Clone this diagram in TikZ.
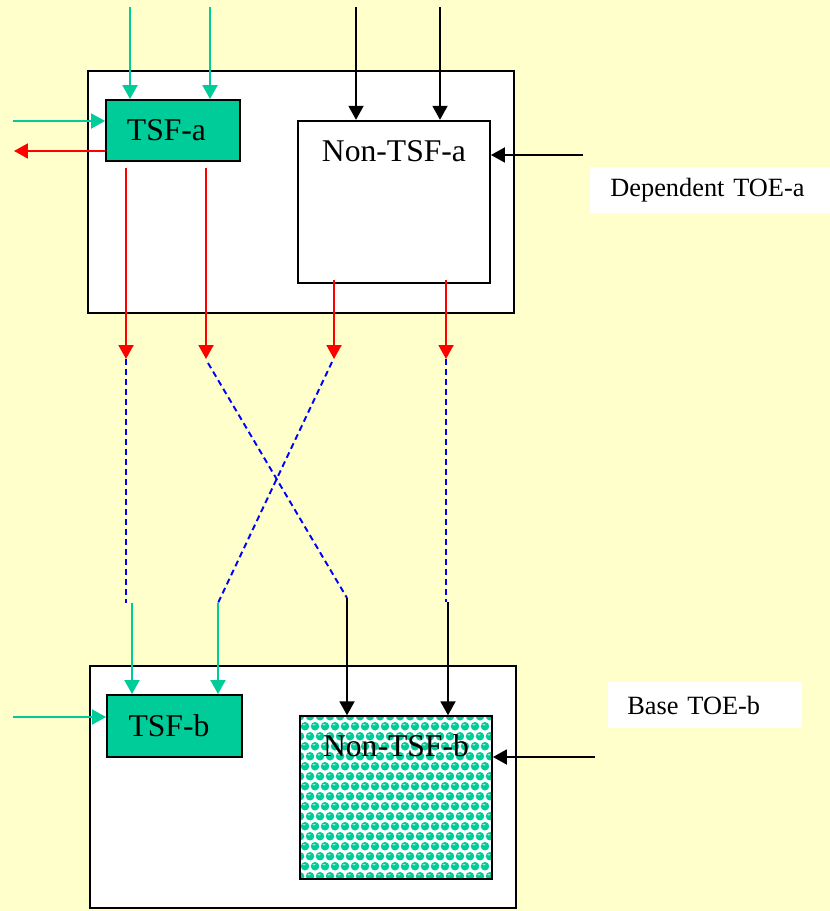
\documentclass[tikz,border=0pt]{standalone}
\usepackage{fontspec}
\setmainfont{Liberation Serif}
\newfontfamily\toeserif{Liberation Serif}
\definecolor{toeyellow}{RGB}{255,255,204}
\definecolor{tsfgreen}{RGB}{0,204,153}
\definecolor{flowred}{RGB}{255,0,0}
\definecolor{flowblue}{RGB}{0,0,255}
\usetikzlibrary{arrows.meta}
\tikzset{
  flowtip/.style={-{Triangle[length=0.28cm,width=0.3cm]}},
  boxfont/.style={font=\toeserif\fontsize{18}{20}\selectfont},
  toebox/.style={draw, line width=1.1pt, fill=white, minimum width=8.52cm, minimum height=4.84cm},
  tsfbox/.style={draw, line width=1.1pt, fill=tsfgreen, inner sep=0pt, boxfont},
  nontsfbox/.style={draw, line width=1.1pt, fill=white, inner sep=0pt, minimum width=3.84cm, minimum height=3.25cm},
  toelabel/.style={fill=white, anchor=west, align=left, minimum height=0.92cm, font=\toeserif\fontsize{15}{17}\selectfont},
  gline/.style={flowtip, tsfgreen, line width=1.1pt},
  kline/.style={flowtip, black, line width=1.1pt},
  rline/.style={flowtip, flowred, line width=1.1pt},
  dline/.style={flowblue, line width=1.1pt, dash pattern=on 0.12cm off 0.08cm}
}

\begin{document}
\begin{tikzpicture}[x=0.02cm, y=-0.02cm]
  \fill[toeyellow] (0,0) rectangle (830,911);
  \useasboundingbox (0,0) rectangle (830,911);

  % dependent TOE
  \node [toebox] (toea) at (301,192) {};
  \node [tsfbox, minimum width=2.68cm, minimum height=1.22cm] (tsfa) at (173,130.5) {TSF-a\hspace*{0.26cm}\null};
  \node [nontsfbox, label={[anchor=base, yshift=-0.84cm, boxfont]north:Non-TSF-a}] (ntsfa) at (394,202) {};
  \node [toelabel, inner xsep=0.4cm, text width=4.0cm] (lbla) at (590,190) {Dependent TOE-a};

  % base TOE
  \node [toebox] (toeb) at (303,787) {};
  \node [tsfbox, minimum width=2.7cm, minimum height=1.24cm] (tsfb) at (174.5,726) {TSF-b\hspace*{0.22cm}\null};
  \node [nontsfbox, label={[anchor=base, yshift=-0.82cm, boxfont]north:Non-TSF-b},
    path picture={
      \foreach \j in {0,...,17}{
        \foreach \i in {0,...,20}{
          \fill[tsfgreen] ([xshift={\i*0.2cm+mod(\j,2)*0.1cm}, yshift={-\j*0.2cm}]path picture bounding box.north west) circle (0.085cm);
          \fill[white!65!tsfgreen] ([xshift={\i*0.2cm+mod(\j,2)*0.1cm-0.02cm}, yshift={-\j*0.2cm+0.03cm}]path picture bounding box.north west) ellipse (0.035cm and 0.015cm);
        }
      }
    }] (ntsfb) at (396,797.5) {};
  \node [toelabel, inner xsep=0.38cm, text width=3.12cm] (lblb) at (608,705) {Base TOE-b};

  % free ends
  \coordinate (ga1) at (130,7);
  \coordinate (ga2) at (210,7);
  \coordinate (ka1) at (356,7);
  \coordinate (ka2) at (440,7);
  \coordinate (gla) at (13,121);
  \coordinate (rla) at (14,151);
  \coordinate (kra) at (583,155);
  \coordinate (ra1) at (126,359);
  \coordinate (ra2) at (206,359);
  \coordinate (ra3) at (334,359);
  \coordinate (ra4) at (446,359);
  \coordinate (gb1) at (132,603);
  \coordinate (gb2) at (218,603);
  \coordinate (kb1) at (347,598);
  \coordinate (kb2) at (448,602);
  \coordinate (glb) at (13,717);
  \coordinate (krb) at (595,757);

  % into and out of TOE-a
  \draw [gline] (ga1) -- (ga1 |- tsfa.north);
  \draw [gline] (ga2) -- (ga2 |- tsfa.north);
  \draw [kline] (ka1) -- (ka1 |- ntsfa.north);
  \draw [kline] (ka2) -- (ka2 |- ntsfa.north);
  \draw [gline] (gla) -- (gla -| tsfa.west);
  \draw [rline] (rla -| tsfa.west) -- (rla);
  \draw [kline] (kra) -- (kra -| ntsfa.east);

  \draw [rline] (ra1 |- tsfa.south) ++(0,6) -- (ra1);
  \draw [rline] (ra2 |- tsfa.south) ++(0,6) -- (ra2);
  \draw [rline] (ra3 |- ntsfa.south) ++(0,-4) -- (ra3);
  \draw [rline] (ra4 |- ntsfa.south) ++(0,-4) -- (ra4);

  % crossing flows
  \draw [dline] (ra1) -- (ra1 |- gb1);
  \draw [dline] (ra2) ++(2,4) -- (kb1);
  \draw [dline] (ra3) ++(-2,3) -- (gb2);
  \draw [dline] (ra4) -- (ra4 |- kb2);

  % into TOE-b
  \draw [gline] (gb1) -- (gb1 |- tsfb.north);
  \draw [gline] (gb2) -- (gb2 |- tsfb.north);
  \draw [kline] (kb1) -- (kb1 |- ntsfb.north);
  \draw [kline] (kb2) -- (kb2 |- ntsfb.north);
  \draw [gline] (glb) -- (glb -| tsfb.west);
  \draw [kline] (krb) -- (krb -| ntsfb.east);
\end{tikzpicture}
\end{document}
